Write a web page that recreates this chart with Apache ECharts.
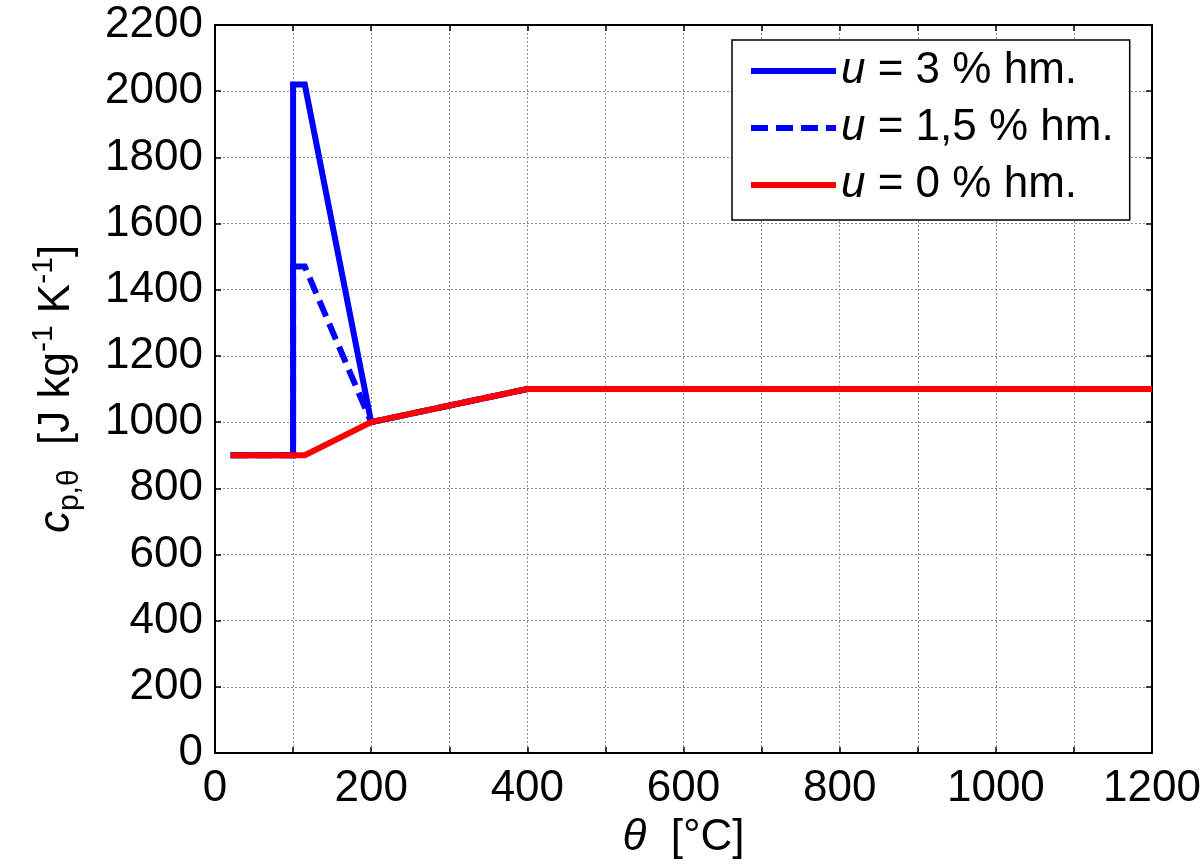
<!DOCTYPE html>
<html>
<head>
<meta charset="utf-8">
<script src="https://cdn.jsdelivr.net/npm/echarts@6/dist/echarts.min.js"></script>
<style>html,body{margin:0;padding:0;background:#fff;}#c{width:1204px;height:865px;}</style>
</head>
<body>
<div id="c"></div>
<script>
// Data (theta [°C], c_p [J/kg/K])
const seriesNames = ['u = 3 % hm.', 'u = 1,5 % hm.', 'u = 0 % hm.'];
const u3 = [[20, 900], [100, 900], [100, 2020], [115, 2020], [200, 1000], [400, 1100], [1200, 1100]];
const u15 = [[20, 900], [100, 900], [100, 1470], [115, 1470], [200, 1000], [400, 1100], [1200, 1100]];
const u0 = [[20, 900], [115, 900], [200, 1000], [400, 1100], [1200, 1100]];
const xTicks = { min: 0, max: 1200, step: 100, labelStep: 200 };
const yTicks = { min: 0, max: 2200, step: 200 };

const FONT = '"Liberation Sans", Arial, sans-serif';
const chart = echarts.init(document.getElementById('c'));

const gridLine = { show: true, lineStyle: { color: '#8c8c8c', width: 1, type: [2, 2] } };
const axisLine = { show: true, onZero: false, lineStyle: { color: '#000', width: 2 } };
const tick = { show: true, inside: true, length: 6, lineStyle: { color: '#000', width: 1.5 } };

chart.setOption({
  animation: false,
  backgroundColor: '#fff',
  grid: { left: 215, right: 51, top: 25, bottom: 112, containLabel: false },
  legend: {
    orient: 'vertical',
    left: 732, top: 40,
    padding: [9, 16, 13, 16],
    itemGap: 13,
    itemWidth: 85,
    itemHeight: 14,
    backgroundColor: '#fff',
    borderColor: '#000',
    borderWidth: 1.5,
    borderRadius: 0,
    data: seriesNames,
    itemStyle: { opacity: 0 },
    lineStyle: { width: 6 },
    formatter: function (name) {
      return '{i|u}{n|' + name.slice(1) + '}';
    },
    textStyle: {
      fontFamily: FONT, fontSize: 44, color: '#000',
      rich: {
        i: { fontFamily: FONT, fontSize: 44, fontStyle: 'italic', color: '#000', lineHeight: 46 },
        n: { fontFamily: FONT, fontSize: 44, color: '#000', lineHeight: 46 }
      }
    }
  },
  xAxis: [{
    type: 'value', min: xTicks.min, max: xTicks.max, interval: xTicks.step,
    axisLine: axisLine, axisTick: tick, splitLine: gridLine,
    axisLabel: {
      margin: 14, fontFamily: FONT, fontSize: 44, color: '#000',
      formatter: function (v) { return v % xTicks.labelStep === 0 ? String(v) : ''; }
    },
    name: '{i|θ}{n|  [°C]}',
    nameLocation: 'middle', nameGap: 58,
    nameTextStyle: {
      rich: {
        i: { fontFamily: FONT, fontSize: 44, fontStyle: 'italic', color: '#000' },
        n: { fontFamily: FONT, fontSize: 44, color: '#000' }
      }
    }
  }, {
    type: 'value', position: 'top', min: xTicks.min, max: xTicks.max, interval: xTicks.step,
    axisLine: axisLine, axisTick: tick, splitLine: { show: false }, axisLabel: { show: false }
  }],
  yAxis: [{
    type: 'value', min: yTicks.min, max: yTicks.max, interval: yTicks.step,
    axisLine: axisLine, axisTick: tick, splitLine: gridLine,
    axisLabel: {
      margin: 12, fontFamily: FONT, fontSize: 44, color: '#000',
      formatter: function (v) { return String(v); }
    },
    name: '{c|c}{sub|p,θ}{n|  [J kg}{sup|-1}{n| K}{sup|-1}{n|]}',
    nameLocation: 'middle', nameRotate: 90, nameGap: 130,
    nameTextStyle: {
      rich: {
        c: { fontFamily: FONT, fontSize: 44, fontStyle: 'italic', color: '#000', lineHeight: 56 },
        n: { fontFamily: FONT, fontSize: 44, color: '#000', lineHeight: 56 },
        sub: { fontFamily: FONT, fontSize: 30, color: '#000', lineHeight: 30, verticalAlign: 'bottom' },
        sup: { fontFamily: FONT, fontSize: 30, color: '#000', lineHeight: 30, verticalAlign: 'top' }
      }
    }
  }, {
    type: 'value', position: 'right', min: yTicks.min, max: yTicks.max, interval: yTicks.step,
    axisLine: axisLine, axisTick: tick, splitLine: { show: false }, axisLabel: { show: false }
  }],
  series: [{
    name: seriesNames[0], type: 'line', data: u3, symbol: 'none', z: 2,
    lineStyle: { color: '#0000ff', width: 6, cap: 'butt', join: 'miter' }, itemStyle: { color: '#0000ff' }
  }, {
    name: seriesNames[1], type: 'line', data: u15, symbol: 'none', z: 3,
    lineStyle: { color: '#0000ff', width: 6, type: [17, 8], join: 'miter' }, itemStyle: { color: '#0000ff' }
  }, {
    name: seriesNames[2], type: 'line', data: u0, symbol: 'none', z: 4,
    lineStyle: { color: '#ff0000', width: 6, join: 'miter' }, itemStyle: { color: '#ff0000' }
  }]
});
</script>
</body>
</html>
